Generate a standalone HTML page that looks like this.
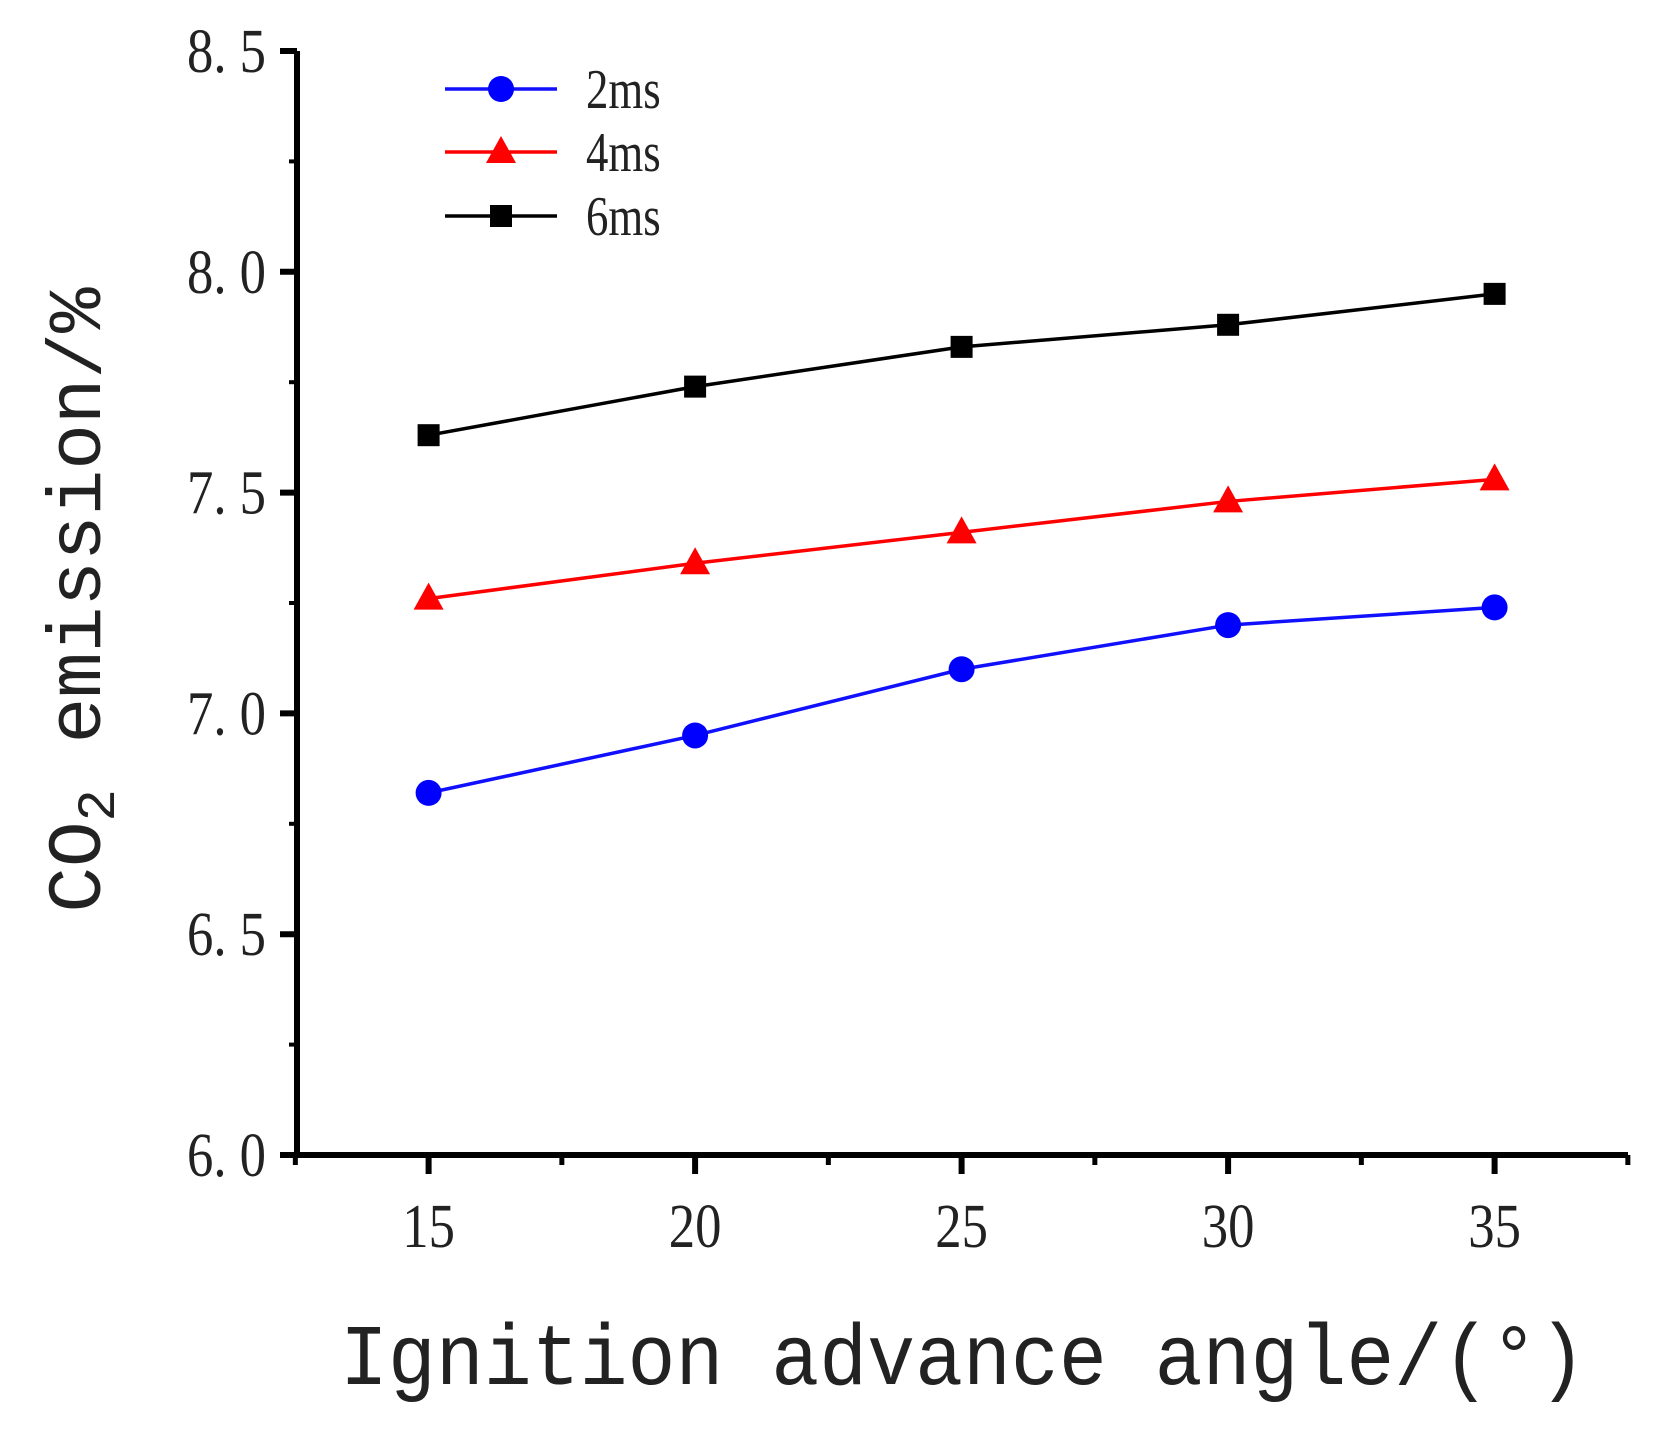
<!DOCTYPE html>
<html><head><meta charset="utf-8"><style>
html,body{margin:0;padding:0;background:#fff;}
svg{display:block;}
text{font-family:"Liberation Serif",serif;fill:#222;}
</style></head><body>
<svg id="chart" width="1680" height="1430" viewBox="0 0 1680 1430" xmlns="http://www.w3.org/2000/svg">
<g id="axes"></g>
<g id="series"></g>
<g id="legend"></g>
<text x="340" y="1384" textLength="1246" lengthAdjust="spacingAndGlyphs" style="font-family:'Liberation Mono',monospace;font-size:86px;fill:#222">Ignition advance angle/(°)</text>
<text transform="translate(100,600) rotate(-90)" text-anchor="middle" style="font-family:'Liberation Mono',monospace;font-size:76px;fill:#222">CO<tspan font-size="54" dy="14">2</tspan><tspan dy="-14"> emission/%</tspan></text>
</svg>
<script>
const categories = [15, 20, 25, 30, 35];
const seriesNames = ["2ms", "4ms", "6ms"];
const values2ms = [6.82, 6.95, 7.10, 7.20, 7.24];
const values4ms = [7.26, 7.34, 7.41, 7.48, 7.53];
const values6ms = [7.63, 7.74, 7.83, 7.88, 7.95];
const yTicks = ["6.0", "6.5", "7.0", "7.5", "8.0", "8.5"];
const xTicks = [15, 20, 25, 30, 35];

const NS = "http://www.w3.org/2000/svg";
const X0 = 297, Y0 = 1155, XEND = 1628;
function xs(v){ return 428.6 + (v - 15) * 53.3; }
function ys(v){ return Y0 - (v - 6) * 441.6; }
function mk(tag, attrs, parent){
  const e = document.createElementNS(NS, tag);
  for (const k in attrs) e.setAttribute(k, attrs[k]);
  parent.appendChild(e);
  return e;
}
const axes = document.getElementById('axes');
let el;
el = mk('line', {x1:X0, y1:ys(8.5), x2:X0, y2:Y0+3, stroke:'#000','stroke-width':6}, axes);


el = mk('line', {x1:X0-3, y1:Y0, x2:XEND, y2:Y0, stroke:'#000','stroke-width':6}, axes);


yTicks.forEach(function(t){
  const v = parseFloat(t), y = ys(v);
  let tk = mk('line', {x1:X0-17, y1:y, x2:X0, y2:y, stroke:'#000','stroke-width':6}, axes);
  
  
  let lb = mk('text', {transform:'translate(266,' + (y+21) + ') scale(0.85,1)', 'text-anchor':'end', 'font-size':62}, axes);
  lb.textContent = t.replace('.', '. ');
  
  
  if (v < 8.5) {
    let m = mk('line', {x1:X0-8, y1:ys(v+0.25), x2:X0, y2:ys(v+0.25), stroke:'#000','stroke-width':4}, axes);
    
    
  }
});
xTicks.forEach(function(v){
  const x = xs(v);
  let tk = mk('line', {x1:x, y1:Y0, x2:x, y2:Y0+19, stroke:'#000','stroke-width':6}, axes);
  
  
  let lb = mk('text', {transform:'translate(' + x + ',' + (Y0+92) + ') scale(0.85,1)', 'text-anchor':'middle', 'font-size':62}, axes);
  lb.textContent = String(v);
  
  
});
[12.5, 17.5, 22.5, 27.5, 32.5, 37.5].forEach(function(v){
  const x = xs(v);
  let m = mk('line', {x1:x, y1:Y0, x2:x, y2:Y0+10, stroke:'#000','stroke-width':5}, axes);
  
  
});

const seriesG = document.getElementById('series');
const colors = ['#1010ff', '#ff0000', '#000000'];
const markerColors = ['#0000ff', '#ff0000', '#000000'];
const allVals = [values2ms, values4ms, values6ms];
function marker(kind, x, y, color, parent){
  let m;
  if (kind === 0) m = mk('circle', {cx:x, cy:y, r:13, fill:color}, parent);
  else if (kind === 1) m = mk('polygon', {points:(x)+','+(y-16)+' '+(x-15)+','+(y+11)+' '+(x+15)+','+(y+11), fill:color}, parent);
  else m = mk('rect', {x:x-11, y:y-11, width:22, height:22, fill:color}, parent);
  return m;
}
allVals.forEach(function(vals, i){
  const g = mk('g', {}, seriesG);
  
  
  const pts = vals.map(function(v, j){ return xs(categories[j]) + ',' + ys(v); }).join(' ');
  const pl = mk('polyline', {points:pts, fill:'none', stroke:colors[i], 'stroke-width':3.5}, g);
  
  
  vals.forEach(function(v, j){
    const m = marker(i, xs(categories[j]), ys(v), markerColors[i], g);
    
    
  });
});

const legend = document.getElementById('legend');
const legY = [89, 152, 216];
seriesNames.forEach(function(n, i){
  const g = mk('g', {}, legend);
  
  
  mk('line', {x1:445, y1:legY[i], x2:557, y2:legY[i], stroke:colors[i], 'stroke-width':3.5}, g);
  marker(i, 501, legY[i], markerColors[i], g);
  const t = mk('text', {transform:'translate(586,' + (legY[i]+19) + ') scale(0.8,1)', 'font-size':56}, g);
  t.textContent = n;
});
</script>
</body></html>
